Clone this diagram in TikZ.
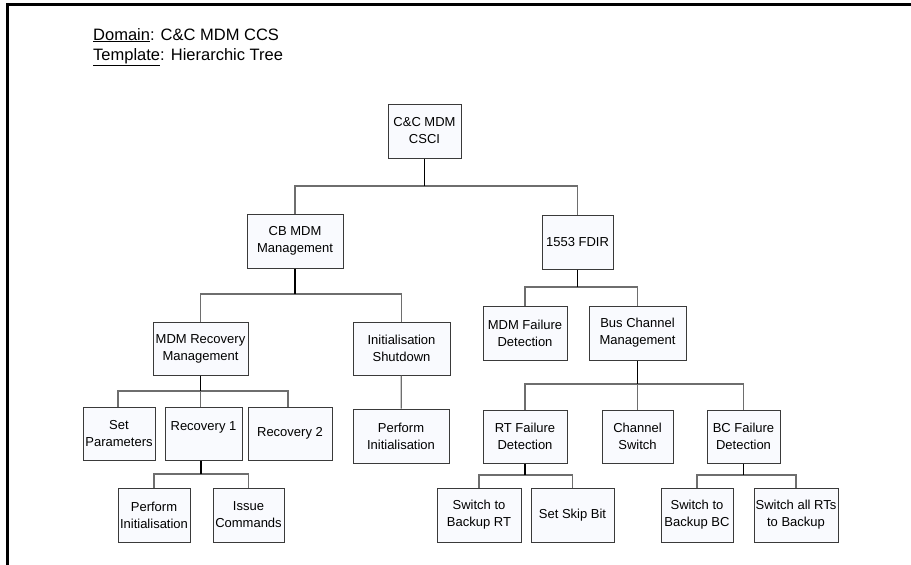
\documentclass[tikz,border=0pt]{standalone}
\usepackage{fontspec}
\setmainfont{Liberation Sans}
\definecolor{boxfill}{HTML}{F9FAFE}
\definecolor{boxline}{HTML}{3A3A3A}
\definecolor{branchcol}{HTML}{6E6E6E}
\tikzset{
  box/.style={draw=boxline, line width=1pt, fill=boxfill, align=center,
    inner sep=1pt, font=\fontsize{13}{17}\selectfont, minimum height=54},
  branch/.style={draw=branchcol, line width=1.3pt},
  stub/.style={draw=black, line width=1.8pt},
  hdr/.style={anchor=base west, inner sep=0pt, font=\fontsize{16.5}{20}\selectfont}
}
\begin{document}
\begin{tikzpicture}[x=1pt,y=-1pt]
\useasboundingbox (0,0) rectangle (911,565);
\draw[line width=3pt] (7.5,565) -- (7.5,4.5) -- (911,4.5);

\node[hdr] (dom) at (93,40) {\underline{Domain}: C\&C MDM CCS};
\node[hdr] (tpl) at (93,60) {\underline{Template}: Hierarchic Tree};

% boxes
\node[box, minimum width=73] (csci) at (424.5,131) {C\&C MDM\\CSCI};
\node[box, minimum width=96] (cb) at (295,241) {CB MDM\\Management};
\node[box, minimum width=71] (fdir) at (577.5,242) {1553 FDIR};
\node[box, minimum width=95, minimum height=53] (mrm) at (200.5,348.5) {MDM Recovery\\Management};
\node[box, minimum width=97, minimum height=53] (ins) at (401.5,348.5) {Initialisation\\Shutdown};
\node[box, minimum width=84] (mfd) at (525,333.5) {MDM Failure\\Detection};
\node[box, minimum width=97] (bcm) at (637.5,333) {Bus Channel\\Management};
\node[box, minimum width=72, minimum height=53] (setp) at (119,433.5) {Set\\Parameters};
\node[box, minimum width=77, minimum height=53] (rec1) at (203.5,433.5) {Recovery 1\\[-2pt]\mbox{}};
\node[box, minimum width=84, minimum height=53] (rec2) at (290,433.5) {Recovery 2};
\node[box, minimum width=96] (pinit1) at (401,436) {Perform\\Initialisation};
\node[box, minimum width=72] (pinit2) at (154,515) {Perform\\Initialisation};
\node[box, minimum width=71] (issue) at (248.5,515) {Issue\\Commands};
\node[box, minimum width=84, minimum height=53] (rtfd) at (525,436.5) {RT Failure\\Detection};
\node[box, minimum width=71, minimum height=53] (chsw) at (637.5,436.5) {Channel\\Switch};
\node[box, minimum width=73, minimum height=53] (bcfd) at (743.5,436.5) {BC Failure\\Detection};
\node[box, minimum width=84] (swrt) at (479,515) {Switch to\\Backup RT};
\node[box, minimum width=83] (skip) at (572.5,515) {Set Skip Bit};
\node[box, minimum width=72] (swbc) at (697,515) {Switch to\\Backup BC};
\node[box, minimum width=84] (swall) at (796,515) {Switch all RTs\\to Backup};

% junctions
\coordinate (j1) at (424.5,186);
\coordinate (j2) at (295,294);
\coordinate (j3) at (577.5,287);
\coordinate (j4) at (200.5,391);
\coordinate (j5) at (637.5,384);
\coordinate (j6) at (201,474);
\coordinate (j7) at (525,475);
\coordinate (j8) at (743.5,475);

% branches
\draw[branch] (cb) |- (j1) -| (fdir);
\draw[branch] (mrm) |- (j2) -| (ins);
\draw[branch] (mfd) |- (j3) -| (bcm);
\draw[branch] (setp.north -| 118,0) |- (j4) -| (rec2.north -| 288,0);
\draw[branch] (j4) -- (j4 |- rec1.north);
\draw[branch] (ins) -- (pinit1);
\draw[branch] (rtfd) |- (j5) -| (bcfd);
\draw[branch] (j5) -- (chsw);
\draw[branch] (pinit2) |- (j6) -| (issue);
\draw[branch] (swrt) |- (j7) -| (skip);
\draw[branch] (swbc) |- (j8) -| (swall);

% parent stubs
\draw[stub] (csci) -- (j1);
\draw[stub] (cb) -- (j2);
\draw[stub] (fdir) -- (j3);
\draw[stub] (mrm) -- (j4);
\draw[stub] (bcm) -- (j5);
\draw[stub] (rec1.south -| j6) -- (j6);
\draw[stub] (rtfd) -- (j7);
\draw[stub] (bcfd) -- (j8);
\end{tikzpicture}
\end{document}
